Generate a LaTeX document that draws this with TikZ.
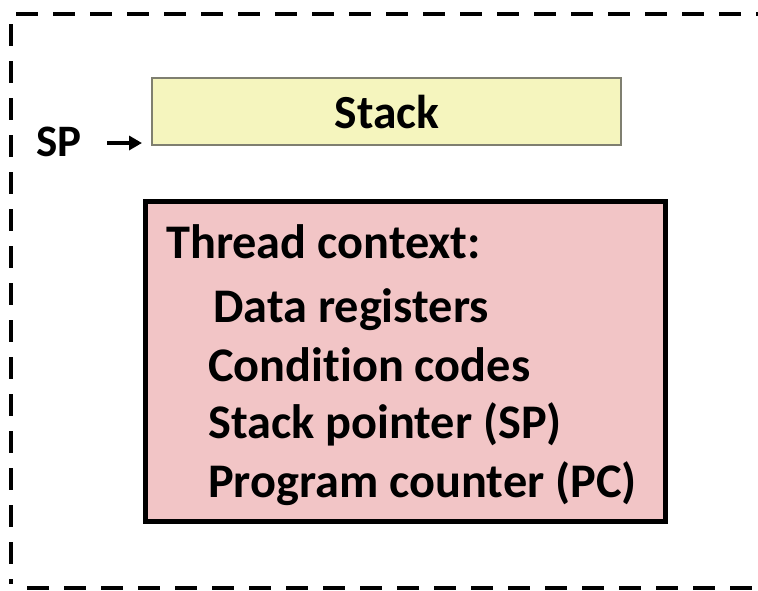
\documentclass[tikz,border=0pt]{standalone}
\usepackage{fontspec}
\setmainfont[Ligatures=NoCommon]{Carlito}
\usetikzlibrary{arrows.meta}
\definecolor{stackfill}{HTML}{F5F5BE}
\definecolor{stackline}{HTML}{7F7F70}
\definecolor{ctxfill}{HTML}{F2C5C6}
\tikzset{
  lbl/.style={font=\bfseries\fontsize{48.3}{56}\selectfont, inner sep=0pt, anchor=base west},
  stackbox/.style={draw=stackline, line width=1.5pt, fill=stackfill, minimum width=469pt, minimum height=67pt, inner sep=0pt},
  ctxbox/.style={draw=black, line width=5pt, fill=ctxfill, minimum width=520pt, minimum height=320pt, inner sep=0pt},
  border/.style={line width=4pt, dash pattern=on 22pt off 15pt}
}
\begin{document}
\begin{tikzpicture}[x=1pt,y=-1pt]
\useasboundingbox (0,0) rectangle (758,590);
\coordinate (btr) at (758,14);
\coordinate (btl) at (16,14);
\coordinate (blt) at (11,24);
\coordinate (blb) at (11,584);
\coordinate (bbl) at (27,588);
\coordinate (bbr) at (758,588);
\draw[border] (btl) -- (btr);
\draw[border] (blt) -- (blb);
\draw[border] (bbl) -- (bbr);
\node[stackbox] (stack) at (386.5,111.5) {};
\node[font=\bfseries\fontsize{47.5}{56}\selectfont, inner sep=0pt, anchor=base] (stacklbl) at (387,128) {Stack};
\node[font=\bfseries\fontsize{45}{52}\selectfont, inner sep=0pt, anchor=base west] (sp) at (36,156) {SP};
\coordinate (tip) at (142,143);
\coordinate (tail) at (107,143);
\draw[line width=4.5pt, -{Triangle[length=13pt,width=14pt]}] (tail) -- (tip);
\node[ctxbox] (ctx) at (405,361) {};
\node[lbl] (t0) at (166,258) {Thread context:};
\node[lbl] (t1) at (213,322) {Data registers};
\node[lbl] (t2) at (208,381) {Condition codes};
\node[lbl] (t3) at (208,438) {Stack pointer (SP)};
\node[lbl] (t4) at (208,497) {Program counter (PC)};
\end{tikzpicture}
\end{document}
